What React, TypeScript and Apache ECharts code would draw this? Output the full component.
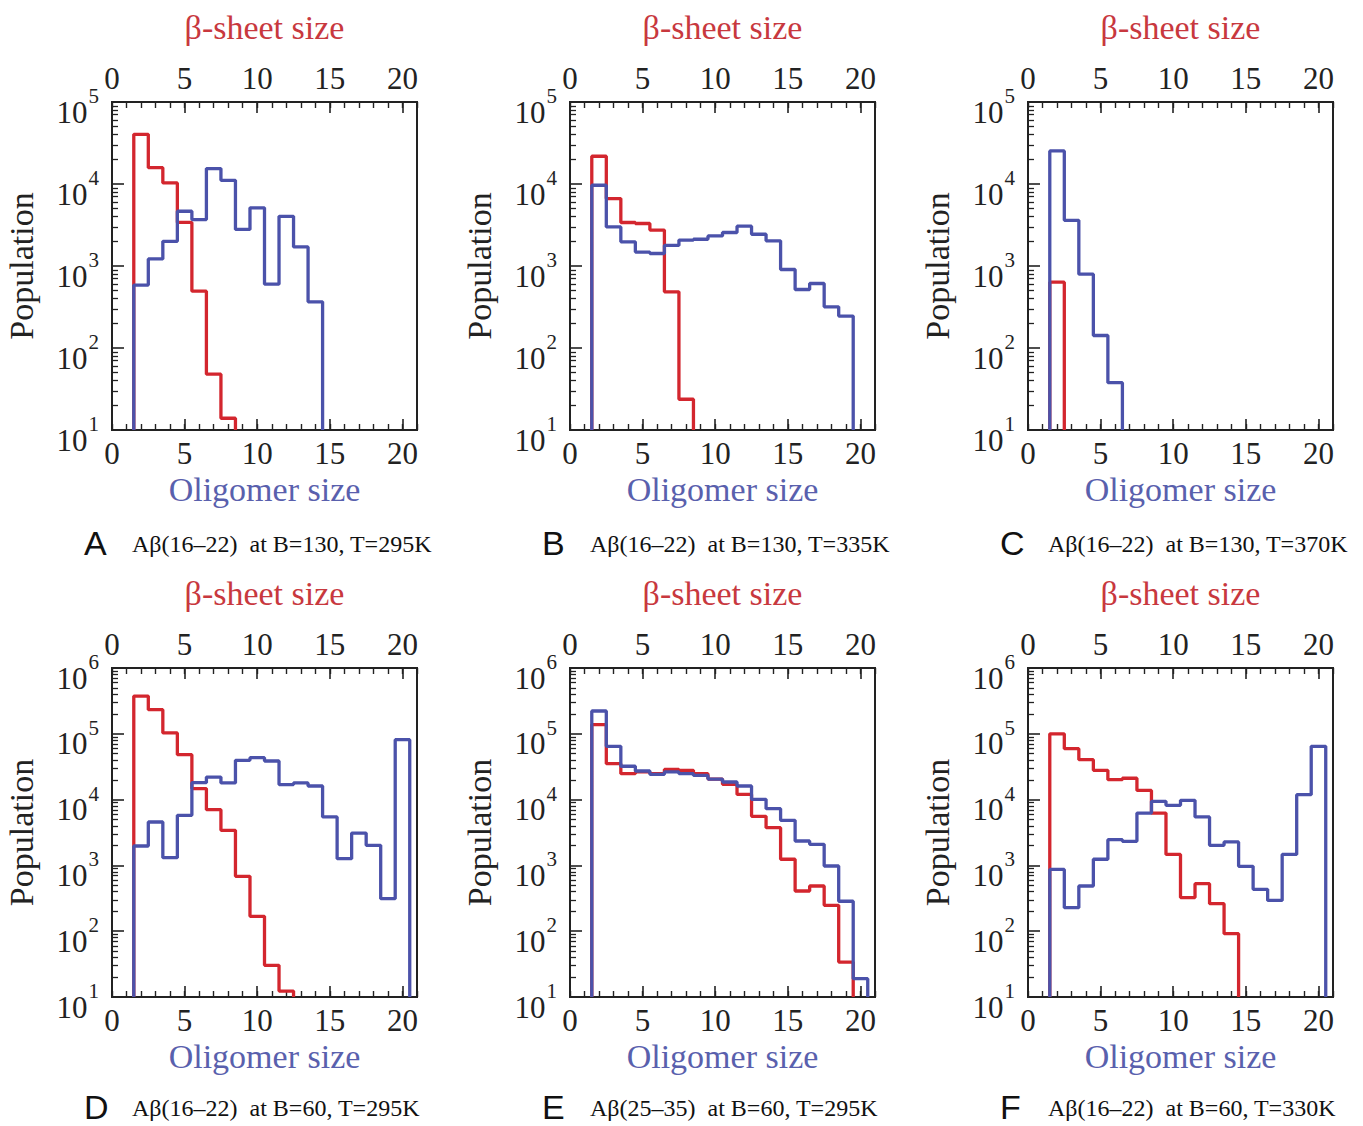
import React, { useEffect, useRef } from "react";
import * as echarts from "echarts";

// ---------- data (bins are centred on integer sizes, first bin = size 2) ----------
const BIN_START = 2;
const X_MAX = 21;
const xMajorTicks = [0, 5, 10, 15, 20];

const aRed = [40400, 15800, 10300, 3400, 493, 48, 13.9];
const aBlue = [585, 1220, 2000, 4650, 3680, 15400, 11100, 2790, 5120, 601, 4040, 1710, 366];
const bRed = [21800, 6640, 3390, 3300, 2740, 484, 23.7];
const bBlue = [9660, 3000, 1970, 1480, 1420, 1780, 2070, 2120, 2330, 2560, 3060, 2440, 2030, 906, 517, 612, 318, 245];
const cRed = [635];
const cBlue = [25300, 3610, 795, 142, 37.8];
const dRed = [375000, 233000, 103000, 48200, 14700, 7030, 3410, 682, 168, 30.3, 12.3];
const dBlue = [1970, 4570, 1310, 5770, 18100, 22000, 17900, 39500, 43400, 38600, 16900, 17900, 16100, 5450, 1265, 3100, 2020, 312, 81500];
const eRed = [138000, 35200, 24800, 26300, 24800, 28700, 27900, 24800, 20500, 17100, 12000, 5570, 3740, 1240, 408, 486, 247, 34];
const eBlue = [222000, 64600, 32100, 27200, 24200, 26300, 24800, 23300, 20500, 18500, 16100, 10100, 7280, 4840, 2350, 2090, 980, 285, 19];
const fRed = [100000, 59400, 40400, 27900, 20100, 21100, 13800, 6250, 1470, 324, 527, 262, 91.8];
const fBlue = [870, 228, 486, 1240, 2460, 2320, 6250, 9420, 8190, 9750, 5450, 2020, 2270, 968, 433, 294, 1470, 11900, 64600];

const panelLetters = ["A", "B", "C", "D", "E", "F"];
const panelCaptions = [
  "Aβ(16–22)  at B=130, T=295K",
  "Aβ(16–22)  at B=130, T=335K",
  "Aβ(16–22)  at B=130, T=370K",
  "Aβ(16–22)  at B=60, T=295K",
  "Aβ(25–35)  at B=60, T=295K",
  "Aβ(16–22)  at B=60, T=330K",
];
const panelRed = [aRed, bRed, cRed, dRed, eRed, fRed];
const panelBlue = [aBlue, bBlue, cBlue, dBlue, eBlue, fBlue];
const panelYMinExp = [1, 1, 1, 1, 1, 1];
const panelYMaxExp = [5, 5, 5, 6, 6, 6];

// ---------- layout / style ----------
const W = 1363;
const H = 1126;
const COLS = [112, 570, 1028];
const ROWS = [
  { top: 102, height: 328, capY: 543 },
  { top: 668, height: 329, capY: 1107 },
];
const PW = 305;
const SERIF = "'Liberation Serif', 'Times New Roman', 'DejaVu Serif', serif";
const SANS = "'Liberation Sans', Arial, 'DejaVu Sans', sans-serif";
const RED = "#d3262e";
const BLUE = "#4b52aa";
const RED_TXT = "#c8383e";
const BLUE_TXT = "#5960ad";
const INK = "#222";

function stepPoints(vals: number[], floor: number): number[][] {
  const pts: number[][] = [];
  const x0 = BIN_START - 0.5;
  pts.push([x0, floor]);
  vals.forEach((v, i) => {
    pts.push([x0 + i, v]);
    pts.push([x0 + i + 1, v]);
  });
  pts.push([x0 + vals.length, floor]);
  return pts;
}

function buildOption() {
  const grid: any[] = [];
  const xAxis: any[] = [];
  const yAxis: any[] = [];
  const series: any[] = [];
  const graphic: any[] = [];

  for (let p = 0; p < 6; p++) {
    const col = p % 3;
    const row = Math.floor(p / 3);
    const left = COLS[col];
    const { top, height, capY } = ROWS[row];
    grid.push({
      left,
      top,
      width: PW,
      height,
      show: true,
      borderColor: INK,
      borderWidth: 2,
      backgroundColor: "transparent",
      containLabel: false,
    });

    const majorX = (pos: string, name: string, nameColor: string, nameGap: number) => ({
      type: "value",
      gridIndex: p,
      position: pos,
      min: 0,
      max: X_MAX,
      interval: 5,
      axisLine: { show: false },
      splitLine: { show: false },
      axisTick: { show: true, inside: true, length: 11, lineStyle: { color: INK, width: 1.6 } },
      axisLabel: {
        show: true,
        margin: 8,
        fontSize: 31,
        fontFamily: SERIF,
        color: INK,
        showMaxLabel: false,
        formatter: (v: number) => (xMajorTicks.includes(v) ? String(v) : ""),
      },
      name,
      nameLocation: "middle",
      nameGap,
      nameTextStyle: { fontSize: 34, fontFamily: SERIF, color: nameColor },
    });
    const minorX = (pos: string) => ({
      type: "value",
      gridIndex: p,
      position: pos,
      min: 0,
      max: X_MAX,
      interval: 1,
      axisLine: { show: false },
      splitLine: { show: false },
      axisLabel: { show: false },
      axisTick: { show: true, inside: true, length: 6, lineStyle: { color: INK, width: 1.4 } },
    });
    const xBase = xAxis.length;
    xAxis.push(majorX("bottom", "Oligomer size", BLUE_TXT, 42));
    xAxis.push(minorX("bottom"));
    xAxis.push(majorX("top", "β-sheet size", RED_TXT, 58));
    xAxis.push(minorX("top"));

    const yMin = Math.pow(10, panelYMinExp[p]);
    const yMax = Math.pow(10, panelYMaxExp[p]);
    const minorVals: number[] = [];
    for (let e = panelYMinExp[p]; e < panelYMaxExp[p]; e++) {
      for (let k = 2; k <= 9; k++) minorVals.push(Math.log10(k * Math.pow(10, e)));
    }
    const yBase = yAxis.length;
    yAxis.push({
      type: "log",
      logBase: 10,
      gridIndex: p,
      position: "left",
      min: yMin,
      max: yMax,
      axisLine: { show: false },
      splitLine: { show: false },
      axisTick: { show: true, inside: true, length: 12, lineStyle: { color: INK, width: 1.6 } },
      axisLabel: {
        show: true,
        margin: 13,
        padding: [9, 0, 0, 0],
        formatter: (v: number) => `{b|10}{s|${Math.round(Math.log10(v))}}`,
        rich: {
          b: { fontSize: 31, lineHeight: 31, padding: [11, 0, 0, 0], fontFamily: SERIF, color: INK },
          s: { fontSize: 21, lineHeight: 21, padding: [0, 0, 21, 1], fontFamily: SERIF, color: INK },
        },
      },
      name: "Population",
      nameLocation: "middle",
      nameGap: 74,
      nameRotate: 90,
      nameTextStyle: { fontSize: 34, fontFamily: SERIF, color: INK },
    });
    yAxis.push({
      type: "value",
      gridIndex: p,
      position: "left",
      min: panelYMinExp[p],
      max: panelYMaxExp[p],
      interval: 1,
      axisLine: { show: false },
      splitLine: { show: false },
      axisLabel: { show: false },
      axisTick: { show: true, inside: true, length: 6, customValues: minorVals, lineStyle: { color: INK, width: 1.3 } },
    });

    series.push({
      type: "line",
      xAxisIndex: xBase,
      yAxisIndex: yBase,
      data: stepPoints(panelRed[p], yMin),
      showSymbol: false,
      symbol: "none",
      lineStyle: { color: RED, width: 3.3 },
      clip: true,
      silent: true,
    });
    series.push({
      type: "line",
      xAxisIndex: xBase,
      yAxisIndex: yBase,
      data: stepPoints(panelBlue[p], yMin),
      showSymbol: false,
      symbol: "none",
      lineStyle: { color: BLUE, width: 3.3 },
      clip: true,
      silent: true,
    });

    graphic.push({
      type: "text",
      x: left - 28,
      y: capY,
      style: { text: panelLetters[p], font: `34px ${SANS}`, fill: "#111", textVerticalAlign: "middle" },
    });
    graphic.push({
      type: "text",
      x: left + 20,
      y: capY + 1,
      style: { text: panelCaptions[p], font: `24px ${SERIF}`, fill: "#111", textVerticalAlign: "middle" },
    });
  }

  return {
    animation: false,
    backgroundColor: "#ffffff",
    grid,
    xAxis,
    yAxis,
    series,
    graphic,
  };
}

export default function App() {
  const ref = useRef<HTMLDivElement>(null);
  useEffect(() => {
    if (!ref.current) return;
    const chart = echarts.init(ref.current, null, { renderer: "svg" });
    chart.setOption(buildOption() as any);
    return () => chart.dispose();
  }, []);
  return (
    <div
      ref={ref}
      style={{ position: "absolute", left: 0, top: 0, width: W, height: H, background: "#fff" }}
    />
  );
}
